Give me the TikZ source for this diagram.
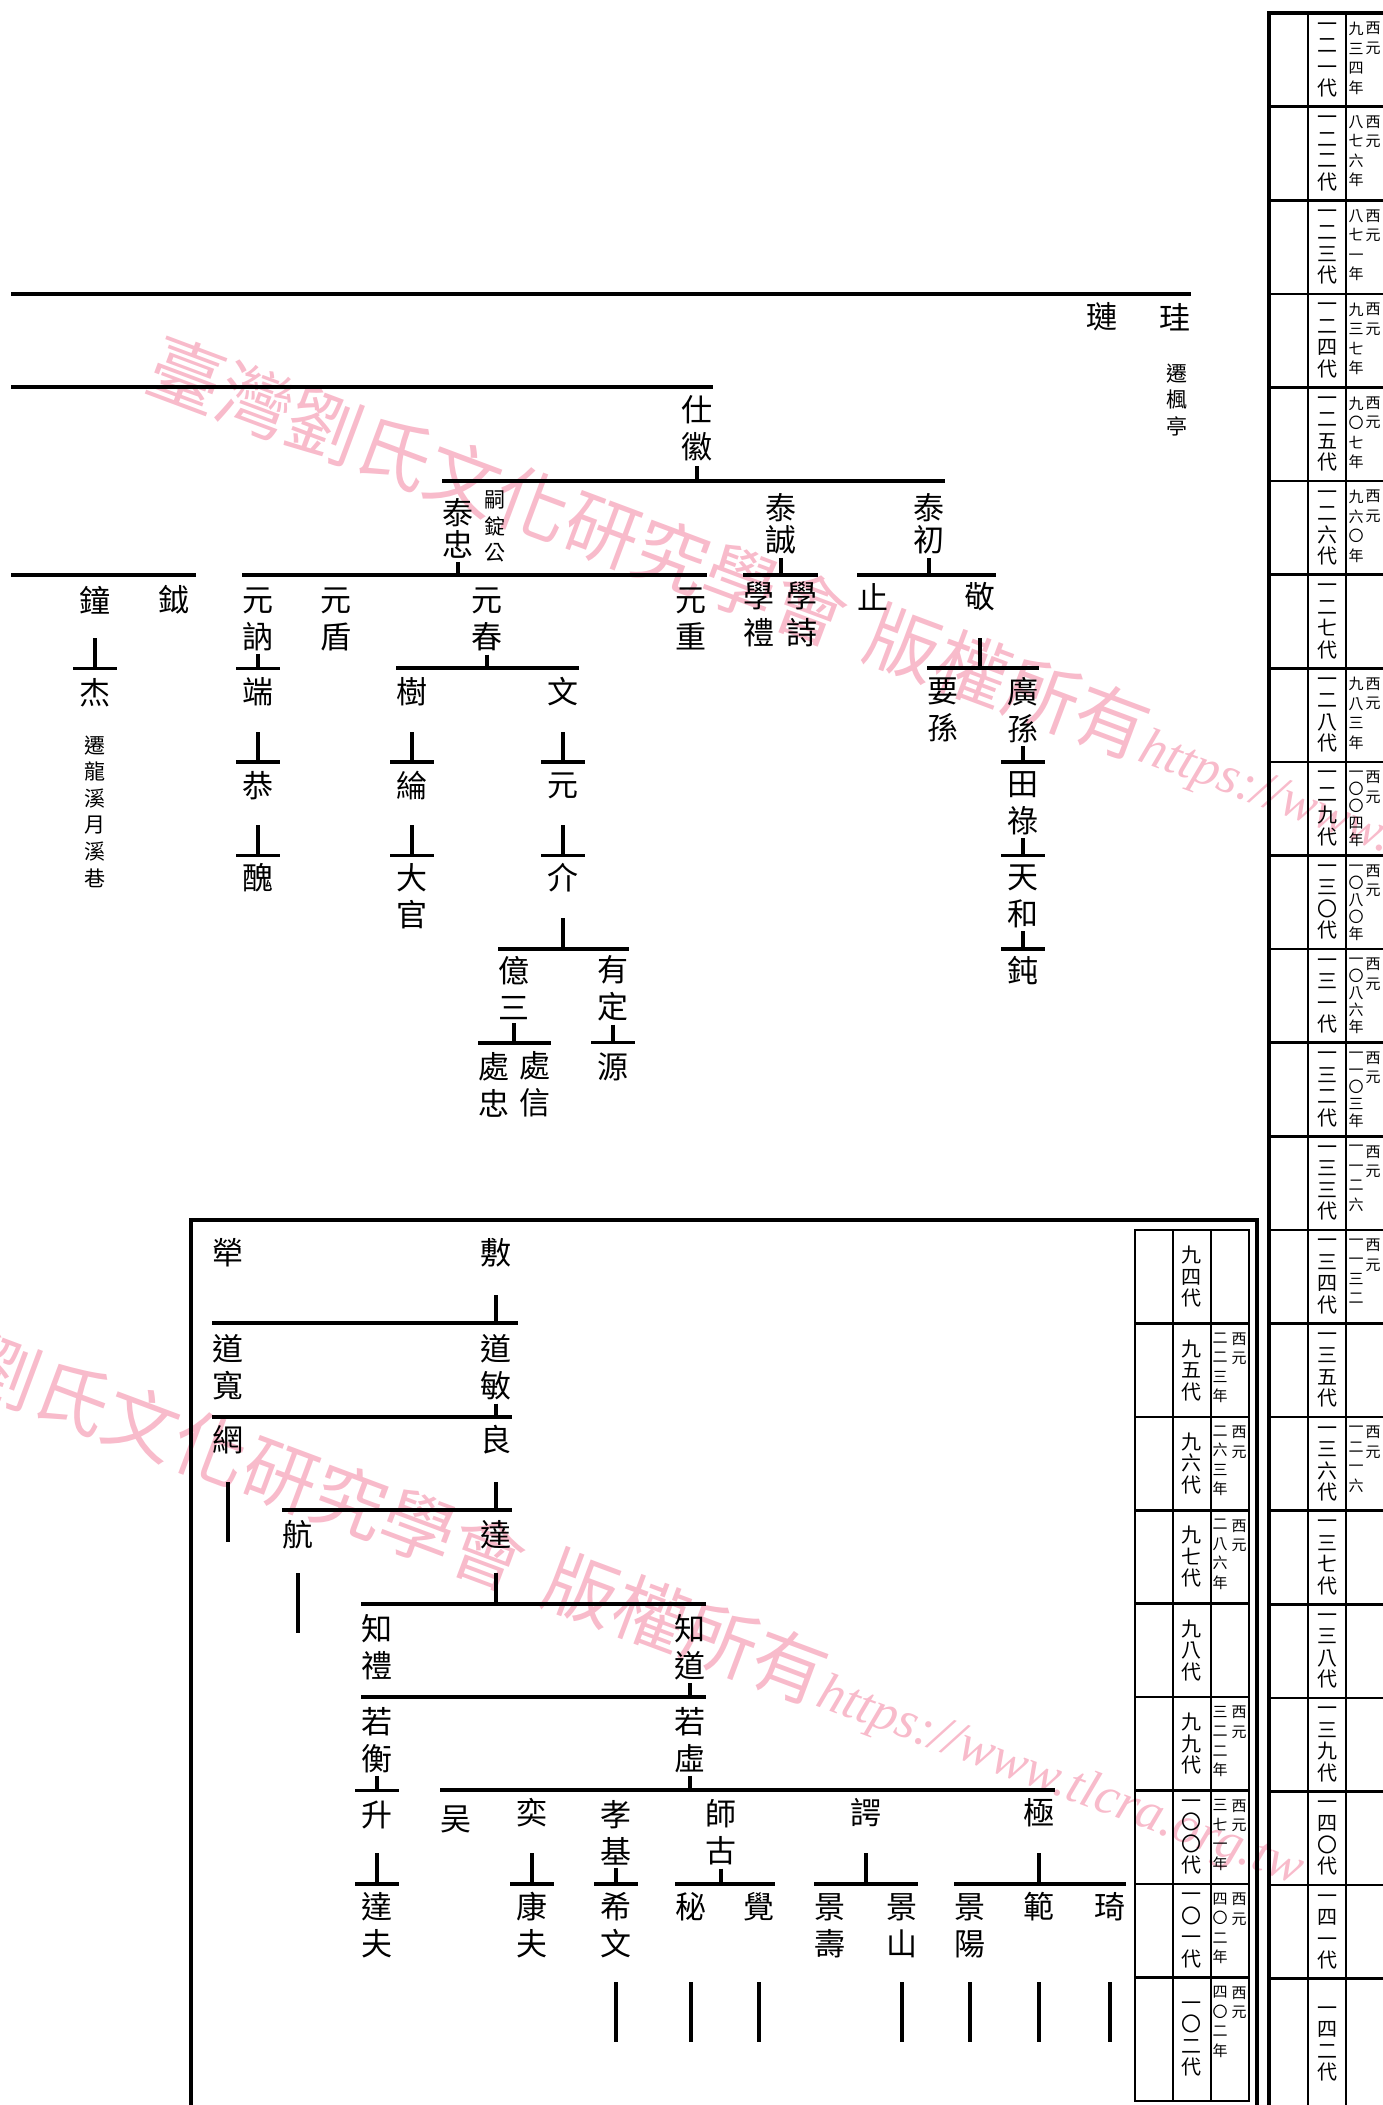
\documentclass[tikz,border=0pt]{standalone}
\usepackage{fontspec}
\setmainfont{Noto Sans CJK TC}
\newfontfamily\urlfont{Liberation Serif}
\definecolor{wmpink}{RGB}{248,187,203}

% stack the characters of a word one under another
\makeatletter
\newcommand\vt[1]{\vt@a#1\@nil}
\def\vt@a#1#2\@nil{#1\ifx\relax#2\relax\expandafter\@gobble\else\expandafter\@firstofone\fi{\\\vt@a#2\@nil}}
\makeatother

\begin{document}
\begin{tikzpicture}[x=1pt, y=-1pt,
    person/.style={font=\fontsize{31}{37}\selectfont, inner sep=0pt, align=center},
    tai/.style={person, font=\fontsize{31}{32}\selectfont},
    remark/.style={font=\fontsize{21}{26.6}\selectfont, inner sep=0pt, align=center},
    sibbar/.style={line width=4pt},
    tee/.style={line width=3.4pt},
    genlab/.style={font=\fontsize{20}{21.5}\selectfont, inner sep=0pt, align=center},
    yearlab/.style={font=\fontsize{15}{19.5}\selectfont, inner sep=0pt, align=center, anchor=north},
    yeartight/.style={yearlab, font=\fontsize{15}{17}\selectfont},
    tabrule/.style={line width=2.6pt},
    tabframe/.style={line width=4pt},
    wm/.style={text=wmpink, inner sep=0pt, anchor=west, rotate=-20.5, font=\fontsize{74}{74}\selectfont}]
    \useasboundingbox (0,0) rectangle (1383,2105);

    % Watermarks
    \begin{scope}
        \clip (0,0) rectangle (1383,2105);
        \node[wm] (wmtop) at (151,364) {臺灣劉氏文化研究學會\hspace{0.35em}版權所有{\urlfont\itshape\fontsize{53}{53}\selectfont https://www.tlcra.org.tw}};
        \node[wm] (wmbot) at (-171,1309) {臺灣劉氏文化研究學會\hspace{0.35em}版權所有{\urlfont\itshape\fontsize{53}{53}\selectfont https://www.tlcra.org.tw}};
    \end{scope}

    % Generation 124
    \coordinate (cutA) at (11,293.8);
    \node[person] (lian) at (1102,317) {璉};
    \node[person] (gui) at (1175,317) {珪};
    \node[remark] (fengting) at (1177,400) {遷\\楓\\亭};
    \draw[sibbar] (cutA) -- (gui.east |- cutA);

    % Generation 125
    \coordinate (cutB) at (11,387.4);
    \node[person] (shihui) at (697,428.5) {仕\\徽};
    \draw[sibbar] (cutB) -- (shihui.east |- cutB);

    % Generation 126
    \node[tai] (taizhong) at (458,528) {泰\\忠};
    \node[remark] (sijing) at (495,526.5) {嗣\\錠\\公};
    \node[tai] (taicheng) at (781,524) {泰\\誠};
    \node[tai] (taichu) at (929,524) {泰\\初};
    \draw[tee] ([yshift=-5pt]shihui.south) -- (shihui |- 0,481);
    \draw[sibbar] (taizhong.west |- 0,481) -- (taichu.east |- 0,481);

    % Generation 127
    \coordinate (cutC) at (11,574.6);
    \node[person] (zhong) at (95,600) {鐘};
    \node[person] (yue) at (174,600) {鉞};
    \node[person] (yuanne) at (258,619) {元\\訥};
    \node[person] (yuandun) at (336,619) {元\\盾};
    \node[person] (yuanchun) at (487,619) {元\\春};
    \node[person] (yuanzhong) at (691,619) {元\\重};
    \node[person] (xueli) at (759,614) {學\\禮};
    \node[person] (xueshi) at (802,614) {學\\詩};
    \node[person] (zhi) at (873,597) {止};
    \node[person] (jing) at (980,597) {敬};
    \draw[sibbar] (cutC) -- (yue.east |- cutC) -- ++(6,0);
    \draw[tee] ([yshift=-4pt]taizhong.south) -- (taizhong |- 0,574.6);
    \draw[sibbar] (yuanne.west |- 0,574.6) -- (yuanzhong.east |- 0,574.6);
    \draw[tee] ([yshift=-4pt]taicheng.south) -- (taicheng |- 0,574.6);
    \draw[sibbar] (xueli.west |- 0,574.6) -- (xueshi.east |- 0,574.6);
    \draw[tee] ([yshift=-4pt]taichu.south) -- (taichu |- 0,574.6);
    \draw[sibbar] (zhi.west |- 0,574.6) -- (jing.east |- 0,574.6);

    % Generation 128
    \node[person] (jie) at (95,693) {杰};
    \node[remark] (longxi) at (95,811.5) {遷\\龍\\溪\\月\\溪\\巷};
    \node[person] (duan) at (258,692) {端};
    \node[person] (shu) at (412,692) {樹};
    \node[person] (wen) at (563,692) {文};
    \node[person] (yaosun) at (943,710) {要\\孫};
    \node[person] (guangsun) at (1023,710) {廣\\孫};
    \draw[tee] (zhong |- 0,638) -- (jie |- 0,668.2) ++(-22,0) -- ++(44,0);
    \draw[tee] ([yshift=-3pt]yuanne.south) -- (duan |- 0,668.2) ++(-22,0) -- ++(44,0);
    \draw[tee] ([yshift=-4pt]yuanchun.south) -- (yuanchun |- 0,668.2);
    \draw[sibbar] (shu.west |- 0,668.2) -- (wen.east |- 0,668.2);
    \draw[tee] (jing |- 0,638) -- (jing |- 0,668.2);
    \draw[sibbar] (yaosun.west |- 0,668.2) -- (guangsun.east |- 0,668.2);

    % Generation 129
    \node[person] (gong) at (258,786) {恭};
    \node[person] (lun) at (412,786) {綸};
    \node[person] (yuan) at (563,786) {元};
    \node[person] (tianlu) at (1023,803.5) {田\\祿};
    \draw[tee] (duan |- 0,732) -- (gong |- 0,761.8) ++(-22,0) -- ++(44,0);
    \draw[tee] (shu |- 0,732) -- (lun |- 0,761.8) ++(-22,0) -- ++(44,0);
    \draw[tee] (wen |- 0,732) -- (yuan |- 0,761.8) ++(-22,0) -- ++(44,0);
    \draw[tee] ([yshift=-3pt]guangsun.south) -- (tianlu |- 0,761.8) ++(-22,0) -- ++(44,0);

    % Generation 130
    \node[person] (chou) at (258,878) {醜};
    \node[person] (daguan) at (412,896.5) {大\\官};
    \node[person] (jieren) at (563,878) {介};
    \node[person] (tianhe) at (1023,896.5) {天\\和};
    \draw[tee] (gong |- 0,825) -- (chou |- 0,855.4) ++(-22,0) -- ++(44,0);
    \draw[tee] (lun |- 0,825) -- (daguan |- 0,855.4) ++(-22,0) -- ++(44,0);
    \draw[tee] (yuan |- 0,825) -- (jieren |- 0,855.4) ++(-22,0) -- ++(44,0);
    \draw[tee] ([yshift=-3pt]tianlu.south) -- (tianhe |- 0,855.4) ++(-22,0) -- ++(44,0);

    % Generation 131
    \node[person] (yisan) at (514,988.5) {億\\三};
    \node[person] (youding) at (613,988.5) {有\\定};
    \node[person] (dun) at (1023,971) {鈍};
    \draw[tee] (jieren |- 0,918) -- (jieren |- 0,949);
    \draw[sibbar] (yisan.west |- 0,949) -- (youding.east |- 0,949);
    \draw[tee] ([yshift=-3pt]tianhe.south) -- (dun |- 0,949) ++(-22,0) -- ++(44,0);

    % Generation 132
    \node[person] (chuzhong) at (494,1084.5) {處\\忠};
    \node[person] (chuxin) at (535,1084.5) {處\\信};
    \node[person] (yuanb) at (613,1067) {源};
    \draw[tee] ([yshift=-3pt]yisan.south) -- (yisan |- 0,1042.6);
    \draw[sibbar] (chuzhong.west |- 0,1042.6) -- (chuxin.east |- 0,1042.6);
    \draw[tee] ([yshift=-3pt]youding.south) -- (yuanb |- 0,1042.6) ++(-22,0) -- ++(44,0);

    % Lower box: generations 94 to 102
    \draw[tabframe] (191,2110) -- (191,1220) -- (1257,1220) -- (1257,2110);

    \node[person] (luo) at (228,1253) {犖};
    \node[person] (fu) at (496,1253) {敷};
    \node[person] (daokuan) at (228,1367.5) {道\\寬};
    \node[person] (daomin) at (496,1367.5) {道\\敏};
    \draw[tee] (fu |- 0,1295) -- (fu |- 0,1323.4);
    \draw[sibbar] (daokuan.west |- 0,1323.4) -- (daomin.east |- 0,1323.4) -- ++(6,0);

    \node[person] (wang) at (228,1440) {網};
    \node[person] (liang) at (496,1440) {良};
    \draw[tee] ([yshift=-3pt]daomin.south) -- (daomin |- 0,1416.8);
    \draw[sibbar] (wang.west |- 0,1416.8) -- (liang.east |- 0,1416.8);

    \node[person] (hang) at (298,1535) {航};
    \node[person] (da) at (496,1535) {達};
    \draw[tee] (wang |- 0,1482) -- (wang |- 0,1542);
    \draw[tee] (liang |- 0,1482) -- (liang |- 0,1510.2);
    \draw[sibbar] (hang.west |- 0,1510.2) -- (da.east |- 0,1510.2);

    \node[person] (zhili) at (377,1647) {知\\禮};
    \node[person] (zhidao) at (690,1647) {知\\道};
    \draw[tee] (hang |- 0,1573) -- (hang |- 0,1633);
    \draw[tee] (da |- 0,1573) -- (da |- 0,1603.6);
    \draw[sibbar] (zhili.west |- 0,1603.6) -- (zhidao.east |- 0,1603.6);

    \node[person] (ruoheng) at (377,1740) {若\\衡};
    \node[person] (ruoxu) at (690,1740) {若\\虛};
    \draw[tee] ([yshift=-3pt]zhidao.south) -- (zhidao |- 0,1697);
    \draw[sibbar] (ruoheng.west |- 0,1697) -- (ruoxu.east |- 0,1697);

    \node[person] (sheng) at (377,1815) {升};
    \node[person] (wu) at (456,1819) {吴};
    \node[person] (yi) at (532,1813) {奕};
    \node[person] (xiaoji) at (616,1832.5) {孝\\基};
    \node[person] (shigu) at (721,1832.5) {師\\古};
    \node[person] (eyu) at (866,1813) {諤};
    \node[person] (ji) at (1039,1813) {極};
    \draw[tee] ([yshift=-3pt]ruoheng.south) -- (sheng |- 0,1790.4) ++(-22,0) -- ++(44,0);
    \draw[tee] ([yshift=-3pt]ruoxu.south) -- (ruoxu |- 0,1790.4);
    \draw[sibbar] (wu.west |- 0,1790.4) -- (ji.east |- 0,1790.4);

    \node[person] (dafu) at (377,1925) {達\\夫};
    \node[person] (kangfu) at (532,1925) {康\\夫};
    \node[person] (xiwen) at (616,1925) {希\\文};
    \node[person] (mi) at (691,1907) {秘};
    \node[person] (jue) at (759,1907) {覺};
    \node[person] (jingshou) at (830,1926) {景\\壽};
    \node[person] (jingshan) at (902,1926) {景\\山};
    \node[person] (jingyang) at (970,1926) {景\\陽};
    \node[person] (fan) at (1039,1907) {範};
    \node[person] (qi) at (1110,1907) {琦};
    \draw[tee] (sheng |- 0,1853) -- (dafu |- 0,1883.8) ++(-22,0) -- ++(44,0);
    \draw[tee] (yi |- 0,1853) -- (kangfu |- 0,1883.8) ++(-22,0) -- ++(44,0);
    \draw[tee] ([yshift=-3pt]xiaoji.south) -- (xiwen |- 0,1883.8) ++(-22,0) -- ++(44,0);
    \draw[tee] ([yshift=-3pt]shigu.south) -- (shigu |- 0,1883.8);
    \draw[sibbar] (mi.west |- 0,1883.8) -- (jue.east |- 0,1883.8);
    \draw[tee] (eyu |- 0,1853) -- (eyu |- 0,1883.8);
    \draw[sibbar] (jingshou.west |- 0,1883.8) -- (jingshan.east |- 0,1883.8);
    \draw[tee] (ji |- 0,1853) -- (ji |- 0,1883.8);
    \draw[sibbar] (jingyang.west |- 0,1883.8) -- (qi.east |- 0,1883.8);

    % Lines carried on to the next generation
    \foreach \n in {xiwen,mi,jue,jingshan,jingyang,fan,qi}
        \draw[tee] (\n |- 0,1982) -- (\n |- 0,2042);

    % Generation table of the lower box
    \draw[tabrule] (1135,2101) -- (1135,1230) -- (1249,1230) -- (1249,2101) -- cycle;
    \foreach \x in {1173,1211}
        \draw[tabrule] (\x,1230) -- (\x,2101);
    \foreach \k in {1,...,8}
        \draw[tabrule] (1135,{1230+93.4*\k}) -- (1249,{1230+93.4*\k});
    \foreach \g [count=\k from 0] in {九四代,九五代,九六代,九七代,九八代,九九代,一〇〇代,一〇一代}
        \node[genlab] (gb\k) at (1191,{1230+93.4*\k+46.7}) {\expandafter\vt\expandafter{\g}};
    \node[genlab] (gb8) at (1191,2039) {\vt{一〇二代}};
    \foreach \k/\yr in {1/二二三年,2/二六三年,3/二八六年,5/三二二年,6/三七一年,7/四〇二年,8/四〇二年}{
        \node[yearlab] (xb\k) at (1239,{1239+93.4*\k}) {西\\元};
        \node[yearlab] (yb\k) at (1220,{1239+93.4*\k}) {\expandafter\vt\expandafter{\yr}};
    }

    % Generation table on the right
    \draw[tabframe] (1269,2110) -- (1269,13) -- (1390,13);
    \foreach \x in {1308,1346}
        \draw[tabrule] (\x,13) -- (\x,2110);
    \foreach \k in {1,...,21}
        \draw[tabrule] (1269,{13+93.6*\k}) -- (1390,{13+93.6*\k});
    \foreach \g [count=\k from 0] in {一二一代,一二二代,一二三代,一二四代,一二五代,一二六代,一二七代,一二八代,一二九代,一三〇代,一三一代,一三二代,一三三代,一三四代,一三五代,一三六代,一三七代,一三八代,一三九代,一四〇代,一四一代}
        \node[genlab] (ga\k) at (1327,{13+93.6*\k+46.8}) {\expandafter\vt\expandafter{\g}};
    \node[genlab] (ga21) at (1327,2044) {\vt{一四二代}};
    \foreach \k/\yr in {0/九三四年,1/八七六年,2/八七一年,3/九三七年,4/九〇七年,5/九六〇年,7/九八三年,12/一一二六,13/一一三二,15/一二一六}{
        \node[yearlab] (xa\k) at (1373,{22+93.6*\k}) {西\\元};
        \node[yearlab] (ya\k) at (1356,{22+93.6*\k}) {\expandafter\vt\expandafter{\yr}};
    }
    \foreach \k/\yr in {8/一〇〇四年,9/一〇八〇年,10/一〇八六年,11/一一〇三年}{
        \node[yearlab] (xa\k) at (1373,{22+93.6*\k}) {西\\元};
        \node[yeartight] (ya\k) at (1356,{22+93.6*\k}) {\expandafter\vt\expandafter{\yr}};
    }

\end{tikzpicture}
\end{document}
